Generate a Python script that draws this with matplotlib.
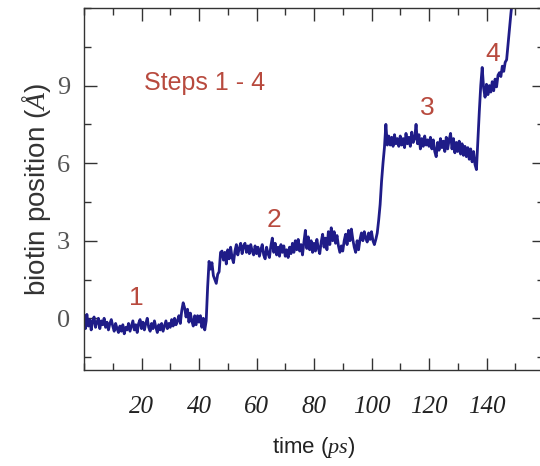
import numpy as np
import matplotlib
matplotlib.use("Agg")
import matplotlib.pyplot as plt
from matplotlib.ticker import MultipleLocator

# serif italic for the units inside the axis labels
plt.rcParams['mathtext.fontset'] = 'custom'
plt.rcParams['mathtext.it'] = 'Liberation Serif:italic'
plt.rcParams['mathtext.rm'] = 'Liberation Serif'

# biotin position (Angstrom), sampled every 0.5 ps from t = 0
dt = 0.5
position = [
    # 0 - 10 ps
    0.1, -0.4, 0.15, -0.3, -0.05, -0.45, -0.1, 0.05, -0.35, -0.15,
    0.0, -0.4, -0.1, -0.25, 0.0, -0.35, -0.15, -0.45, -0.2, -0.05,
    # 10 - 20 ps
    -0.3, -0.5, -0.2, -0.4, -0.55, -0.3, -0.5, -0.25, -0.6, -0.35,
    -0.45, -0.2, -0.5, -0.3, -0.1, -0.45, -0.25, -0.55, -0.2, -0.05,
    # 20 - 30 ps
    -0.4, -0.15, -0.45, -0.2, 0.0, -0.35, -0.5, -0.2, -0.4, -0.1,
    -0.35, -0.55, -0.25, -0.45, -0.2, -0.5, -0.3, -0.1, -0.4, -0.2,
    # 30 - 40 ps
    -0.35, -0.05, -0.3, 0.0, -0.25, -0.1, 0.1, -0.2, 0.3, 0.6,
    0.4, 0.05, 0.35, -0.15, 0.2, -0.1, -0.3, 0.1, -0.25, 0.1,
    # 40 - 50 ps
    -0.15, 0.1, -0.35, 0.0, -0.45, -0.1, 1.2, 2.2, 1.9, 2.15,
    1.65, 1.5, 1.35, 1.7, 1.8, 2.55, 2.6, 2.25, 2.55, 2.1,
    # 50 - 60 ps
    2.65, 2.3, 2.75, 2.35, 2.15, 2.6, 2.85, 2.45, 2.7, 2.9,
    2.5, 2.8, 2.9, 2.55, 2.8, 2.5, 2.85, 2.6, 2.45, 2.8,
    # 60 - 70 ps
    2.5, 2.75, 2.4, 2.65, 2.85, 2.45, 2.3, 2.75, 2.5, 2.35,
    2.8, 3.1, 2.55, 2.9, 2.45, 2.75, 2.4, 2.85, 2.55, 2.8,
    # 70 - 80 ps
    2.4, 2.65, 2.35, 2.75, 2.5, 2.9, 2.55, 3.0, 2.65, 3.05,
    2.6, 2.85, 2.45, 2.95, 3.4, 2.7, 3.15, 2.65, 3.0, 2.55,
    # 80 - 90 ps
    2.9, 2.6, 3.05, 2.7, 2.5, 2.95, 3.25, 2.75, 3.1, 2.65,
    3.35, 2.85, 3.5, 3.0, 3.35, 2.9, 3.2, 2.8, 2.55, 2.8,
    # 90 - 100 ps
    2.6, 3.0, 3.25, 2.85, 3.4, 3.0, 3.45, 3.05, 2.75, 2.55,
    3.0, 2.65, 3.05, 3.3, 3.0, 3.35, 3.1, 2.95, 3.3, 3.05,
    # 100 - 110 ps
    3.35, 3.0, 2.85, 3.05, 3.3, 3.8, 4.4, 5.3, 6.0, 6.6,
    7.5, 6.7, 7.05, 6.7, 7.0, 6.65, 7.1, 6.75, 6.95, 6.65,
    # 110 - 120 ps
    7.05, 6.7, 6.95, 6.6, 7.15, 6.75, 7.0, 6.65, 7.2, 6.8,
    6.95, 7.5, 6.75, 7.1, 6.55, 6.95, 6.65, 7.05, 6.7, 6.9,
    # 120 - 130 ps
    6.65, 7.0, 6.55, 6.9, 6.45, 6.25, 6.8, 6.5, 6.95, 6.6,
    6.85, 6.45, 7.0, 6.55, 6.9, 7.15, 6.55, 6.95, 6.4, 6.8,
    # 130 - 140 ps
    6.45, 6.85, 6.35, 6.75, 6.3, 6.65, 6.25, 6.6, 6.15, 6.55,
    6.05, 6.45, 5.95, 5.75, 6.9, 8.0, 9.0, 9.7, 8.9, 8.55,
    # 140 - 150 ps
    9.05, 8.65, 9.0, 8.75, 9.15, 8.8, 9.25, 8.95, 9.4, 9.5,
    9.35, 9.75, 9.55, 9.9, 10.0, 10.6, 11.2, 11.8, 12.3, 13.0,
]
time = np.arange(len(position)) * dt

step_labels = ['1', '2', '3', '4']
step_x = [18.1, 66.1, 119.3, 142.3]
step_y = [0.77, 3.82, 8.15, 10.23]

xticks = [20, 40, 60, 80, 100, 120, 140]
yticks = [0, 3, 6, 9]

red = '#b84a3e'

fig = plt.figure(figsize=(5.4, 4.66), dpi=100)
ax = fig.add_axes([84 / 540, 96 / 466, 460 / 540, 362 / 466])

ax.plot(time, position, color='#1f1c88', lw=2.0)

ax.set_xlim(0, 160)
ax.set_ylim(-2, 12)
ax.set_xticks(xticks)
ax.set_yticks(yticks)
ax.xaxis.set_minor_locator(MultipleLocator(10))
ax.yaxis.set_minor_locator(MultipleLocator(1.5))

for s in ax.spines.values():
    s.set_color('#333333')
    s.set_linewidth(1.0)

ax.tick_params(which='both', direction='in', top=True, right=True,
               color='#333333', width=1.0)
ax.tick_params(which='major', length=9)
ax.tick_params(which='minor', length=5)
ax.tick_params(axis='x', which='major', pad=19)
ax.tick_params(axis='y', which='major', pad=10)

for lab in ax.get_xticklabels():
    lab.set_fontfamily('Liberation Serif')
    lab.set_fontstyle('italic')
    lab.set_fontsize(18)
    lab.set_color('#222222')
for lab in ax.get_yticklabels():
    lab.set_fontfamily('Liberation Serif')
    lab.set_fontsize(19)
    lab.set_color('#555555')

ax.set_xlabel(r'time ($ps$)', fontsize=16, family='Liberation Sans',
              color='#222222', labelpad=12)
ax.set_ylabel(r'biotin position ($\mathit{Å}$)', fontsize=20,
              family='Liberation Sans', color='#333333', labelpad=3)

ax.text(42.1, 9.1, 'Steps 1 - 4', fontsize=18, family='Liberation Sans',
        color=red, ha='center', va='center')
for lab, x, y in zip(step_labels, step_x, step_y):
    ax.text(x, y, lab, fontsize=19, family='Liberation Sans',
            color=red, ha='center', va='center')

fig.savefig('out.png', dpi=100)
